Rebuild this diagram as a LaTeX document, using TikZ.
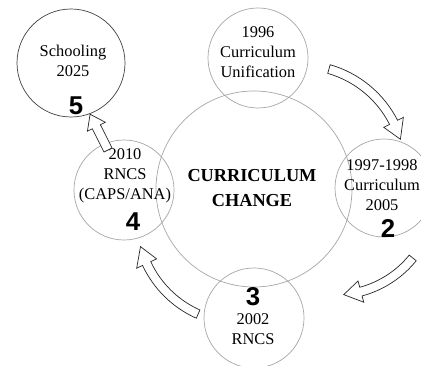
\documentclass[tikz,border=0pt]{standalone}
\usepackage{fontspec}
\setmainfont{Liberation Serif}
\newfontfamily\numfont{Liberation Sans}
\usetikzlibrary{positioning}

% curved block arrow: centre, radius, start angle, head angle, tip angle
\newcommand{\blockarrow}[5]{%
  \pgfmathsetmacro{\ro}{#2+4.5}\pgfmathsetmacro{\ri}{#2-4.5}%
  \pgfmathsetmacro{\hro}{#2+11}\pgfmathsetmacro{\hri}{#2-11}%
  \draw[flow] ([shift={(#1)}]#3:\ro) arc[start angle=#3,end angle=#4,radius=\ro]
    -- ([shift={(#1)}]#4:\hro) -- ([shift={(#1)}]#5:#2) -- ([shift={(#1)}]#4:\hri)
    -- ([shift={(#1)}]#4:\ri) arc[start angle=#4,end angle=#3,radius=\ri] -- cycle;}

\begin{document}
\begin{tikzpicture}[x=0.03cm,y=0.03cm,
      ring/.style={circle,draw=gray!70,line width=0.6pt,inner sep=0pt,minimum size=3cm},
      label/.style={align=center,font=\fontsize{14}{17}\selectfont,inner sep=0pt},
      stage/.style={font=\numfont\bfseries\fontsize{22}{22}\selectfont,inner sep=0pt},
      flow/.style={draw=black!85,fill=white,line width=0.6pt,line join=miter}]
      \useasboundingbox (0,0) rectangle (421,366);
      \node[ring,minimum size=5.88cm] (change) at (254,177) {};
      \node[ring] (c1) at (258,308) {};
      \node[ring,minimum size=2.94cm] (c2) at (384,178) {};
      \node[ring] (c3) at (254,48) {};
      \node[ring] (c4) at (124,176) {};
      \node[ring,draw=black!75,minimum size=3.24cm] (c5) at (71,303) {};
      \node[align=center,inner sep=0pt,font=\bfseries\fontsize{15.6}{21}\selectfont] (title) at (252,178) {CURRICULUM\\CHANGE};
      \node[label] (t1) at (258,314) {1996\\Curriculum\\Unification};
      \node[label] (t2) at (382,181) {1997-1998\\Curriculum\\2005};
      \node[stage] (n2) at (388,137) {2};
      \node[stage] (n3) at (253,69) {3};
      \node[label] (t3) at (253,37) {2002\\RNCS};
      \node[label] (t4) at (125,190) {2010\\RNCS\\(CAPS/ANA)};
      \node[stage] (n4) at (133,144) {4};
      \node[label] (t5) at (73,305) {Schooling\\2025};
      \node[stage] (n5) at (76,260) {5};
      \blockarrow{300,196}{105}{74}{27}{17}
      \blockarrow{335,171}{100}{-39}{-75}{-85}
      \blockarrow{240,146}{103}{246}{205}{195}
      \draw[flow,shift={(108,216)},rotate=116.6] (0,-4.5) -- (26,-4.5) -- (26,-10) -- (40,0) -- (26,10) -- (26,4.5) -- (0,4.5) -- cycle;
\end{tikzpicture}
\end{document}
